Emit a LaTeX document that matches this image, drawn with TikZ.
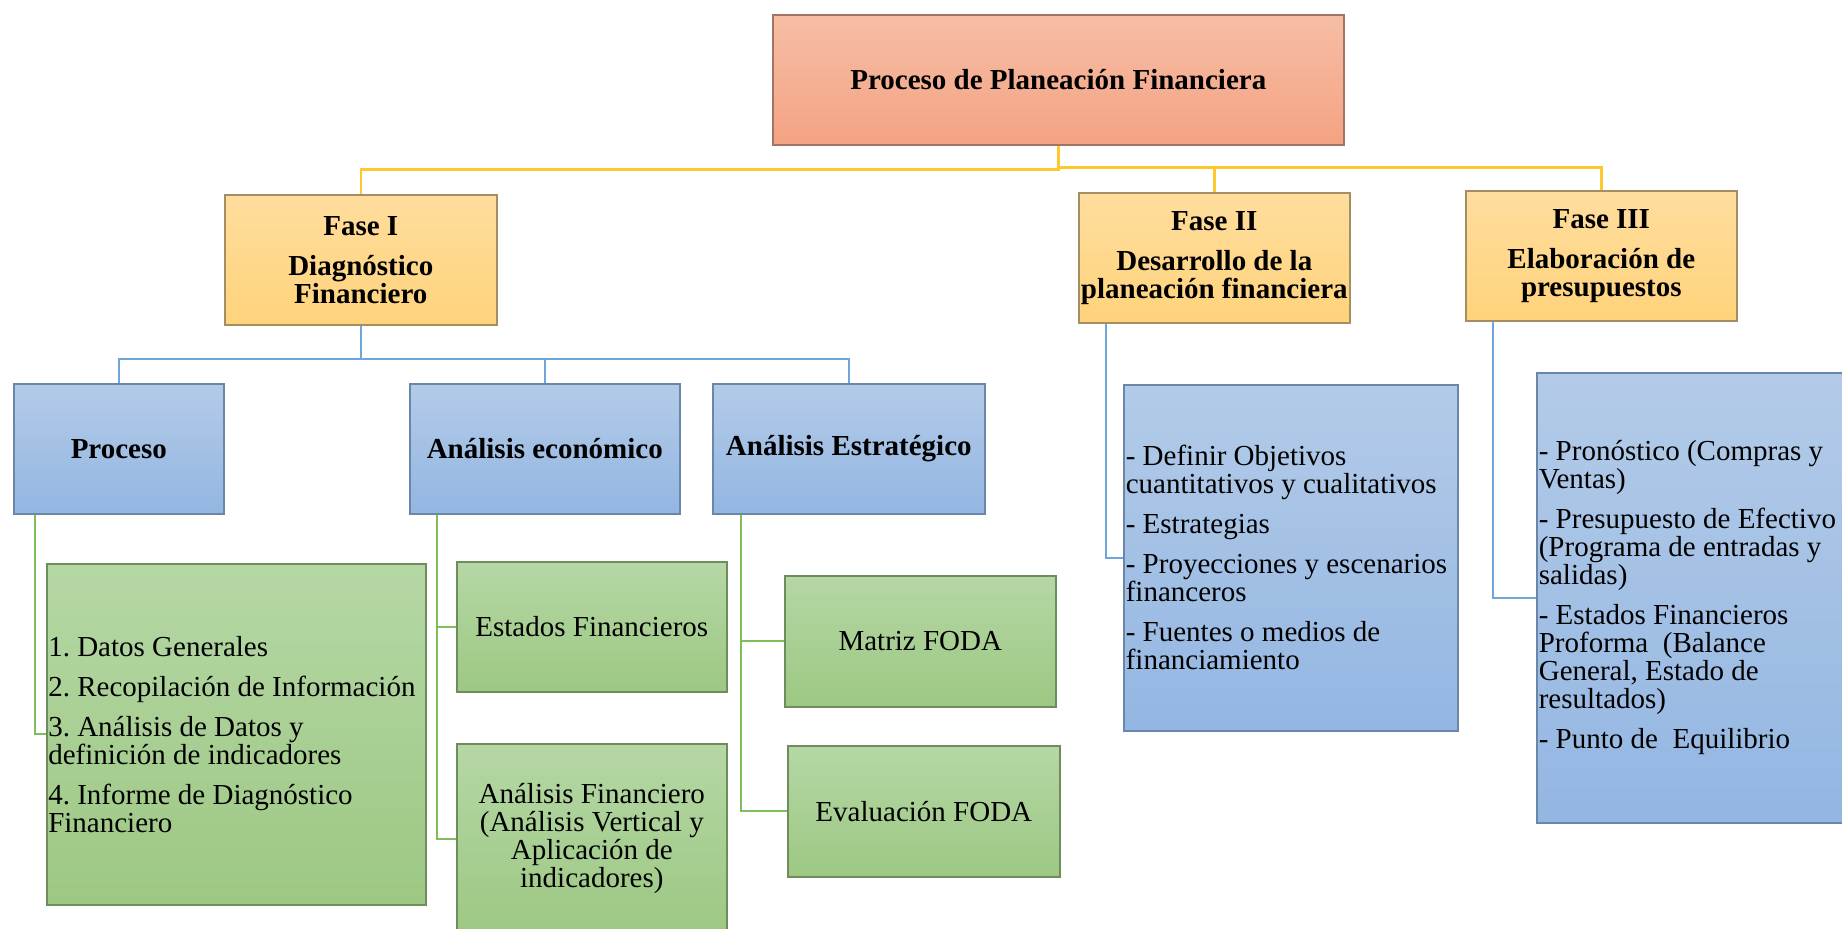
\documentclass[tikz,border=0pt]{standalone}
\usepackage{fontspec}
\setmainfont{Liberation Serif}
\usetikzlibrary{positioning}
\frenchspacing

\definecolor{rootTop}{HTML}{F6BDA5}
\definecolor{rootBot}{HTML}{F4A383}
\definecolor{rootLine}{HTML}{A27464}
\definecolor{yelTop}{HTML}{FFDD9E}
\definecolor{yelBot}{HTML}{FFD37B}
\definecolor{yelLine}{HTML}{A38F62}
\definecolor{bluTop}{HTML}{B3CBE8}
\definecolor{bluBot}{HTML}{93B6E2}
\definecolor{bluLine}{HTML}{6A86A8}
\definecolor{grnTop}{HTML}{B5D7A5}
\definecolor{grnBot}{HTML}{9DC883}
\definecolor{grnLine}{HTML}{6E8C5C}
\definecolor{yLink}{HTML}{FFC82E}
\definecolor{bLink}{HTML}{6FA5DA}
\definecolor{gLink}{HTML}{7FBF5B}

\newcommand{\boxfont}{\fontsize{14.5}{14}\selectfont}

\begin{document}
\begin{tikzpicture}[x=0.5pt, y=-0.5pt,
    every node/.style={font=\boxfont, anchor=north west, minimum height=65pt, line width=0.8pt},
    rootbox/.style={draw=rootLine, top color=rootTop, bottom color=rootBot, font=\boxfont\bfseries},
    fasebox/.style={draw=yelLine, top color=yelTop, bottom color=yelBot, font=\boxfont\bfseries, align=center, inner xsep=0.5pt},
    areabox/.style={draw=bluLine, top color=bluTop, bottom color=bluBot, font=\boxfont\bfseries},
    listbox/.style={draw=bluLine, top color=bluTop, bottom color=bluBot, align=flush left, inner xsep=0.5pt},
    itembox/.style={draw=grnLine, top color=grnTop, bottom color=grnBot, align=center},
    ylink/.style={draw=yLink, line width=1.3pt},
    blink/.style={draw=bLink, line width=1pt},
    glink/.style={draw=gLink, line width=1pt}]
  \useasboundingbox (0,0) rectangle (1842,929);
  \clip (0,0) rectangle (1842,929);

  % nivel 0
  \node[rootbox, minimum width=285.5pt] (root) at (772,14) {Proceso de Planeación Financiera};

  % fases
  \node[fasebox, minimum width=136pt] (fase1) at (224,194) {Fase I\\[6pt] Diagnóstico\\ Financiero};
  \node[fasebox, minimum width=135.5pt] (fase2) at (1078,192) {Fase II\\[6pt] Desarrollo de la\\ planeación financiera};
  \node[fasebox, minimum width=135.5pt] (fase3) at (1465,190) {Fase III\\[6pt] Elaboración de\\ presupuestos};

  % fase I
  \node[areabox, minimum width=105pt] (proceso) at (13,383) {Proceso};
  \node[areabox, minimum width=135pt] (economico) at (409,383) {Análisis económico};
  \node[areabox, minimum width=136pt] (estrategico) at (712,383) {Análisis Estratégico};

  \node[itembox, minimum width=189.5pt, minimum height=170.5pt, text width=188pt, align=flush left, inner xsep=0.5pt] (pasos) at (46,563)
    {1. Datos Generales\\[6pt] 2. Recopilación de Información\\[6pt] 3. Análisis de Datos y\\ definición de indicadores\\[6pt] 4. Informe de Diagnóstico\\ Financiero};
  \node[itembox, minimum width=135pt] (estados) at (456,561) {Estados Financieros};
  \node[itembox, minimum width=135pt, minimum height=95pt] (anfin) at (456,743)
    {Análisis Financiero\\ (Análisis Vertical y\\ Aplicación de\\ indicadores)};
  \node[itembox, minimum width=135.5pt, minimum height=65.5pt] (matriz) at (784,575) {Matriz FODA};
  \node[itembox, minimum width=136pt, minimum height=65.5pt] (evaluacion) at (787,745) {Evaluación FODA};

  % fase II y III
  \node[listbox, minimum width=167pt, minimum height=173pt, text width=165pt] (plan) at (1123,384)
    {- Definir Objetivos\\ cuantitativos y cualitativos\\[6pt] - Estrategias\\[6pt] - Proyecciones y escenarios\\ financeros\\[6pt] - Fuentes o medios de\\ financiamiento};
  \node[listbox, minimum width=157pt, minimum height=225pt, text width=155pt] (presup) at (1536,372)
    {- Pronóstico (Compras y\\ Ventas)\\[6pt] - Presupuesto de Efectivo\\ (Programa de entradas y\\ salidas)\\[6pt] - Estados Financieros\\ Proforma\ \ (Balance\\ General, Estado de\\ resultados)\\[6pt] - Punto de\ \ Equilibrio};

  % conectores
  \draw[ylink] (root.south) -- ++(0,24) -| (fase1.north);
  \draw[ylink] (root.south) -- ++(0,22) -| (fase2.north);
  \draw[ylink] (root.south) -- ++(0,22) -| (fase3.north);

  \draw[blink] (fase1.south) -- ++(0,33) -| (proceso.north);
  \draw[blink] (fase1.south) -- ++(0,33) -| (economico.north);
  \draw[blink] (fase1.south) -- ++(0,33) -| (estrategico.north);
  \draw[blink] ([xshift=14pt]fase2.south west) |- (plan.west);
  \draw[blink] ([xshift=14pt]fase3.south west) |- (presup.west);

  \draw[glink] ([xshift=10.75pt]proceso.south west) |- (pasos.west);
  \draw[glink] ([xshift=14pt]economico.south west) |- (estados.west);
  \draw[glink] ([xshift=14pt]economico.south west) |- (anfin.west);
  \draw[glink] ([xshift=14.5pt]estrategico.south west) |- (matriz.west);
  \draw[glink] ([xshift=14.5pt]estrategico.south west) |- (evaluacion.west);
\end{tikzpicture}
\end{document}
